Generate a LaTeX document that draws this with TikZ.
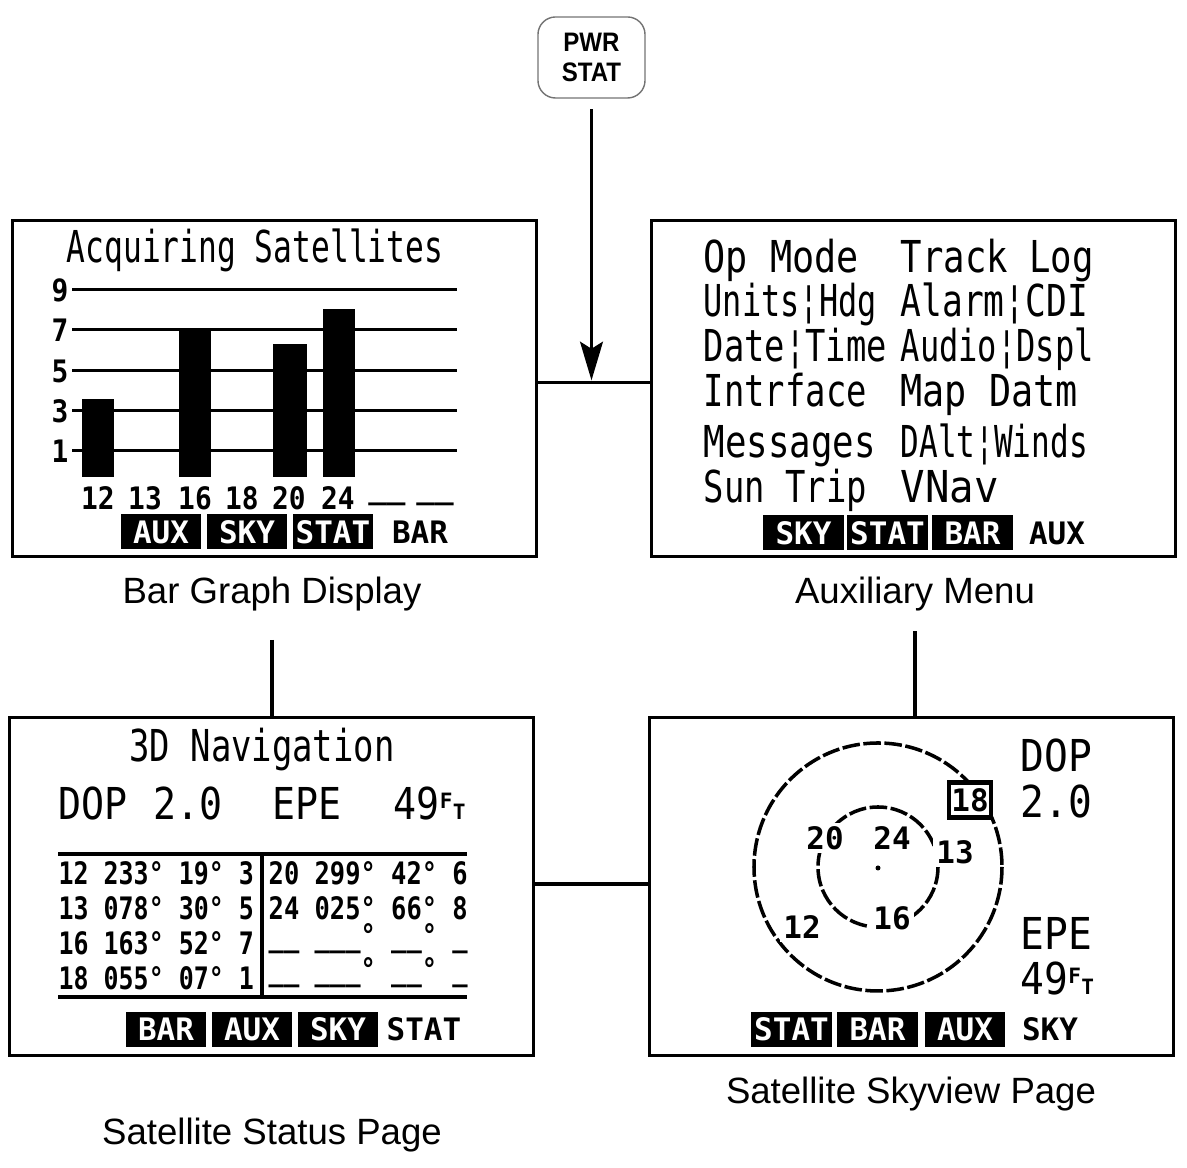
\documentclass[tikz,border=0pt]{standalone}
\usepackage{fontspec}
\setmainfont{Liberation Sans}
\newfontfamily\lcdfam{DejaVu Sans Mono}
\usetikzlibrary{arrows.meta, positioning}

\newcommand{\squeeze}[2][0.82]{\scalebox{#1}[1]{#2}}
\newcommand{\fitw}[2]{\resizebox{#1cm}{\height}{#2}}
\newcommand{\ftsym}{{\bfseries\fontsize{6}{6}\selectfont\raisebox{3.4pt}{F}\kern0.1pt T}}

\tikzset{
  screen/.style={draw, line width=0.9pt, minimum width=5.23cm, minimum height=3.35cm, inner sep=0pt},
  caption/.style={font=\fontsize{10.4}{12}\selectfont, inner sep=0pt},
  lcdbig/.style={font=\lcdfam\fontsize{12.5}{14}\selectfont, inner sep=0pt},
  lcdmid/.style={font=\lcdfam\bfseries\fontsize{8.8}{10}\selectfont, inner sep=0pt},
  softkey/.style={lcdmid, fill=black, text=white, minimum width=0.8cm, minimum height=0.35cm},
  skylbl/.style={lcdmid, fill=white, inner sep=1pt},
  link/.style={line width=0.9pt},
}

\begin{document}
\begin{tikzpicture}[x=0.01cm, y=-0.01cm]
\useasboundingbox (0,0) rectangle (1187,1168);

% power key
\node[draw=black!55, rounded corners=5pt, minimum width=1.07cm, minimum height=0.81cm,
      align=center, font=\bfseries\fontsize{7.6}{8.5}\selectfont] (pwr) at (591.5,57.5)
      {\squeeze[0.9]{PWR}\\\squeeze[0.9]{STAT}};

% the four screens
\node[screen] (bar) at (274.5,388.5) {};
\node[screen] (aux) at (913.5,388.5) {};
\node[screen, minimum height=3.37cm] (stat) at (271.5,886.5) {};
\node[screen, minimum height=3.37cm] (sky) at (911.5,886.5) {};

% captions
\node[caption] (barcap) at (272,594) {Bar Graph Display};
\node[caption] (auxcap) at (915,594) {Auxiliary Menu};
\node[caption] (statcap) at (272,1135) {Satellite Status Page};
\node[caption] (skycap) at (911,1094) {Satellite Skyview Page};

% connectors
\draw[link] ([yshift=1.6pt]bar.east) -- ([yshift=1.6pt]aux.west);
\draw[link] ([yshift=0.7pt]stat.east) -- ([yshift=0.7pt]sky.west);
\draw[link, -{Stealth[length=11pt, width=6.5pt, inset=2pt]}, shorten <=3pt, shorten >=2.3pt]
  (pwr.south) -- (pwr.south |- bar.east);
\draw[link, shorten <=8pt] (barcap.south) -- (barcap.south |- stat.north);
\draw[link, shorten <=5.5pt] (auxcap.south) -- (auxcap.south |- sky.north);

% bar graph screen
\node[lcdbig, anchor=base] (bartitle) at (255,263) {\fitw{3.76}{Acquiring Satellites}};
\foreach \v/\y in {9/290, 7/330, 5/371, 3/411, 1/451} {
  \draw[line width=0.85pt] (72,\y) -- (457,\y);
  \node[lcdmid] (scale\v) at (60,\y) {\squeeze[0.9]{\v}};
}
\foreach \xa/\xb/\top in {82/114/399, 179/211/330, 273/307/344, 323/355/309}
  \fill (\xa,\top) rectangle (\xb,477);
\foreach \n/\x in {12/98, 13/145, 16/195, 18/242, 20/289, 24/338}
  \node[lcdmid, anchor=base] (prn\n) at (\x,510) {\squeeze[0.9]{\n}};
\node[lcdmid, anchor=base] (prnA) at (387,499) {\_\_};
\node[lcdmid, anchor=base] (prnB) at (435,499) {\_\_};
\foreach \k/\x in {AUX/161, SKY/247, STAT/333}
  \node[softkey] (bar\k) at (\x,532) {\k};
\node[lcdmid] (barBAR) at (420,532) {BAR};

% auxiliary menu screen
\foreach \y/\l/\wl/\r/\wr in {273/Op Mode/1.55/Track Log/1.93, 317/Units¦Hdg/1.73/Alarm¦CDI/1.87,
                      362/Date¦Time/1.83/Audio¦Dspl/1.93, 407/Intrface/1.63/Map Datm/1.77,
                      458/Messages/1.72/DAlt¦Winds/1.87, 503/Sun Trip/1.63/VNav/0.98} {
  \node[lcdbig, anchor=base west] (auxL\y) at (703,\y) {\fitw{\wl}{\l}};
  \node[lcdbig, anchor=base west] (auxR\y) at (900,\y) {\fitw{\wr}{\r}};
}
\foreach \k/\x in {SKY/803.5, STAT/887.5, BAR/972.5}
  \node[softkey] (aux\k) at (\x,533) {\k};
\node[lcdmid] (auxAUX) at (1057,533) {AUX};

% satellite status screen
\node[lcdbig, anchor=base] (navtitle) at (262,762) {\fitw{2.65}{3D Navigation}};
\node[lcdbig, anchor=base west] (statdop) at (58,820) {\squeeze[0.87]{DOP}};
\node[lcdbig, anchor=base west] (statdopv) at (153,820) {\squeeze[0.87]{2.0}};
\node[lcdbig, anchor=base west] (statepe) at (272,820) {\squeeze[0.87]{EPE}};
\node[lcdbig, anchor=base west] (statepev) at (393,820) {\squeeze[0.87]{49}\ftsym};
\draw[line width=1.4pt] (58,854) -- (467,854);
\draw[line width=1.4pt] (58,997) -- (467,997);
\draw[line width=1pt] (262,854) -- (262,997);
\foreach \y/\row in {885/12 233° 19° 3, 920/13 078° 30° 5, 955/16 163° 52° 7, 990/18 055° 07° 1}
  \node[lcdmid, anchor=base west] (rowL\y) at (58,\y) {\fitw{1.95}{\row}};
\foreach \y/\row in {885/20 299° 42° 6, 920/24 025° 66° 8,
                     947/\_\_ \_\_\_° \_\_° \_, 981/\_\_ \_\_\_° \_\_° \_}
  \node[lcdmid, anchor=base west] (rowR\y) at (268,\y) {\fitw{1.99}{\row}};
\foreach \k/\x in {BAR/166, AUX/252, SKY/338}
  \node[softkey] (stat\k) at (\x,1029.5) {\k};
\node[lcdmid] (statSTAT) at (424,1029.5) {STAT};

% skyview screen
\draw[line width=1pt, dash pattern=on 5pt off 1pt] (878,867) circle[radius=124];
\draw[line width=1pt, dash pattern=on 5pt off 1pt] (878,867) circle[radius=60];
\fill (878,868) circle[radius=2.5];
\node[skylbl] (sv20) at (825,838) {20};
\node[skylbl] (sv24) at (892,838) {24};
\node[skylbl] (sv13) at (955,852) {13};
\node[skylbl] (sv16) at (892,918) {16};
\node[skylbl] (sv12) at (802,927) {12};
\node[skylbl, draw, line width=1.2pt, minimum width=0.42cm, minimum height=0.35cm, inner sep=0pt]
  (sv18) at (970,800) {18};
\node[lcdbig, anchor=base west] (skydop) at (1020,772) {\squeeze[0.9]{DOP}};
\node[lcdbig, anchor=base west] (skydopv) at (1020,818) {\squeeze[0.9]{2.0}};
\node[lcdbig, anchor=base west] (skyepe) at (1020,950) {\squeeze[0.9]{EPE}};
\node[lcdbig, anchor=base west] (skyepev) at (1020,995) {\squeeze[0.9]{49}\ftsym};
\foreach \k/\x in {STAT/791.5, BAR/877.5, AUX/965}
  \node[softkey] (sky\k) at (\x,1029.5) {\k};
\node[lcdmid] (skySKY) at (1050,1029.5) {SKY};
\end{tikzpicture}
\end{document}
